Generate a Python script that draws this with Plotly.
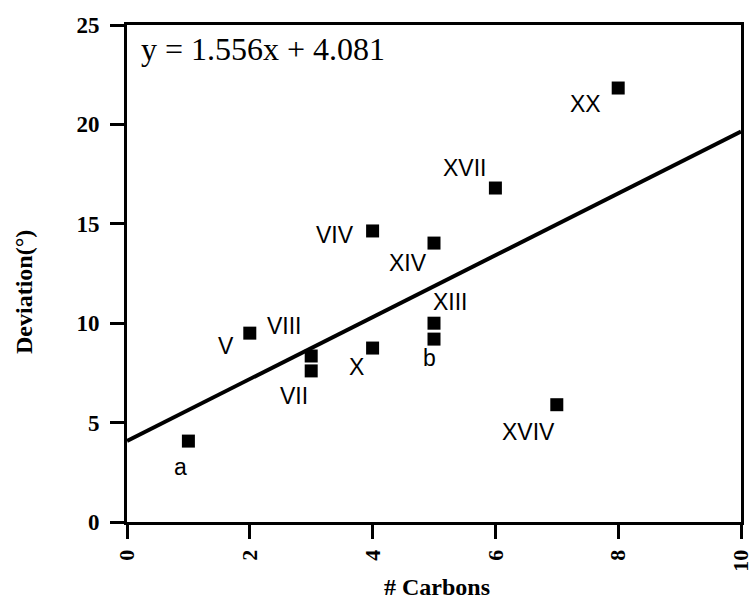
import plotly.graph_objects as go

# Data
carbons = [1, 2, 3, 3, 4, 4, 5, 5, 5, 6, 7, 8]
deviation = [4.07, 9.5, 8.35, 7.6, 8.75, 14.64, 14.03, 10.0, 9.2, 16.8, 5.9, 21.83]

# Labels: text and index of the point they belong to
label_text = ["a", "V", "VIII", "VII", "X", "VIV", "XIV", "XIII", "b", "XVII", "XX", "XVIV"]
label_point = [0, 1, 1, 3, 4, 5, 6, 7, 8, 9, 11, 10]
# pixel offsets of each label from its point (style)
label_dx = [-8, -24, 35, -17, -16, -38, -26, 16, -5, -31, -33, -28]
label_dy = [-26, -13, 7, -25, -19, -4, -20, 21, -19, 20, -16, -27]

slope = 1.556
intercept = 4.081
fit_x = [0, 10]
fit_y = [slope * v + intercept for v in fit_x]

x_ticks = [0, 2, 4, 6, 8, 10]
y_ticks = [0, 5, 10, 15, 20, 25]

serif = "Liberation Serif, Times New Roman, serif"
sans = "Liberation Sans, Arial, sans-serif"

fig = go.Figure()
fig.add_trace(go.Scatter(x=fit_x, y=fit_y, mode="lines",
                         line=dict(color="black", width=4), showlegend=False))
fig.add_trace(go.Scatter(x=carbons, y=deviation, mode="markers",
                         marker=dict(symbol="square", size=13, color="black"),
                         showlegend=False))

annotations = []
for t, i, dx, dy in zip(label_text, label_point, label_dx, label_dy):
    annotations.append(dict(x=carbons[i], y=deviation[i], xref="x", yref="y",
                            text=t, showarrow=False, xshift=dx, yshift=dy,
                            font=dict(family=sans, size=23, color="black"),
                            xanchor="center", yanchor="middle"))

annotations.append(dict(x=(139 - 127) / 614, y=1 - (49 - 25) / 497, xref="paper", yref="paper",
                        text=f"y = {slope}x + {intercept}", showarrow=False,
                        xanchor="left", yanchor="middle",
                        font=dict(family=serif, size=32, color="black")))
annotations.append(dict(x=(24 - 127) / 614, y=1 - (292 - 25) / 497, xref="paper", yref="paper",
                        text="<b>Deviation(°)</b>", showarrow=False, textangle=-90,
                        xanchor="center", yanchor="middle",
                        font=dict(family=serif, size=24, color="black")))
annotations.append(dict(x=(437 - 127) / 614, y=-(587 - 522) / 497, xref="paper", yref="paper",
                        text="<b># Carbons</b>", showarrow=False,
                        xanchor="center", yanchor="middle",
                        font=dict(family=serif, size=24, color="black")))

fig.update_layout(
    width=754, height=599,
    margin=dict(l=127, r=13, t=25, b=77, autoexpand=False),
    paper_bgcolor="white", plot_bgcolor="white",
    annotations=annotations,
    xaxis=dict(range=[0, 10], tickvals=x_ticks, ticktext=[f"<b>{v}</b>" for v in x_ticks],
               tickangle=-90, ticks="outside", ticklen=14, tickwidth=3, tickcolor="black",
               showline=True, linewidth=3, linecolor="black", mirror=True,
               showgrid=False, zeroline=False, automargin=False, ticklabelstandoff=2,
               tickfont=dict(family=serif, size=22, color="black")),
    yaxis=dict(range=[0, 25], tickvals=y_ticks, ticktext=[f"<b>{v}</b>" for v in y_ticks],
               ticks="outside", ticklen=14, tickwidth=3, tickcolor="black",
               showline=True, linewidth=3, linecolor="black", mirror=True,
               showgrid=False, zeroline=False, automargin=False, ticklabelstandoff=6,
               tickfont=dict(family=serif, size=23, color="black")),
)

fig.write_html("out.html", config={"displayModeBar": False},
               post_script="document.body.style.margin='0';document.body.style.overflow='hidden';")
